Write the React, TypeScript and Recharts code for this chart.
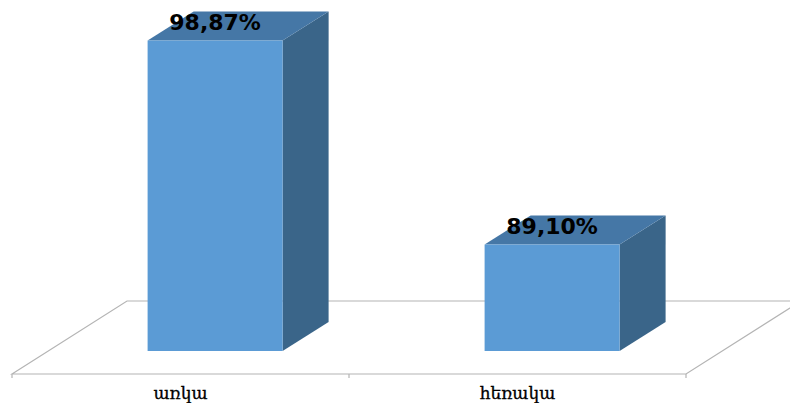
import { Bar, BarChart, LabelList, XAxis, YAxis, usePlotArea } from "recharts";

const categories = ["առկա", "հեռակա"];
const values = [98.87, 89.1];
const chartData = categories.map((name, i) => ({ name, value: values[i] }));

// fake 3d projection, same slant for the floor and the bars
const floorDepth = { dx: 115, dy: 73 };
const barShift = { dx: 34.5, dy: 23 };
const barDepth = { dx: 46, dy: 29 };

const gridColor = "#b4b4b4";

function Floor() {
  const plot = usePlotArea();
  if (!plot) return null;
  const left = plot.x;
  const right = plot.x + plot.width;
  const front = plot.y + plot.height;
  const back = front - floorDepth.dy;
  const ticks = [left, (left + right) / 2, right];
  return (
    <g stroke={gridColor} strokeWidth={1.2} fill="none">
      <path
        d={`M${left},${front} L${left + floorDepth.dx},${back} L${right + floorDepth.dx},${back} L${right},${front} Z`}
      />
      {ticks.map((t) => (
        <line key={t} x1={t} x2={t} y1={front} y2={front + 4} />
      ))}
    </g>
  );
}

function Box3D(props: any) {
  const { x, y, width, height } = props;
  const x0 = x + barShift.dx;
  const x1 = x0 + width;
  const top = y;
  const bottom = y + height - barShift.dy;
  const { dx, dy } = barDepth;
  return (
    <g>
      <path d={`M${x1},${top} L${x1 + dx},${top - dy} L${x1 + dx},${bottom - dy} L${x1},${bottom} Z`} fill="#3a6589" />
      <path d={`M${x0},${top} L${x0 + dx},${top - dy} L${x1 + dx},${top - dy} L${x1},${top} Z`} fill="#4577a6" />
      <rect x={x0} y={top} width={width} height={bottom - top} fill="#5b9bd5" />
    </g>
  );
}

function ValueLabel(props: any) {
  const { x, y, width, value } = props;
  return (
    <text
      x={x + barShift.dx + width / 2}
      y={y - 11}
      textAnchor="middle"
      fontFamily="DejaVu Sans"
      fontWeight="bold"
      fontSize={22}
      fill="#000"
    >
      {value.toFixed(2).replace(".", ",") + "%"}
    </text>
  );
}

export default function App() {
  return (
    <div style={{ position: "absolute", left: 0, top: 0, width: 790, height: 403 }}>
      <BarChart
        width={790}
        height={403}
        data={chartData}
        margin={{ top: 0, right: 104, left: 12, bottom: 0 }}
        barCategoryGap="30%"
      >
        <XAxis
          dataKey="name"
          height={29}
          axisLine={false}
          tickLine={false}
          interval={0}
          tick={{ fontFamily: "DejaVu Serif", fontSize: 17, fill: "#000", stroke: "#000", strokeWidth: 0.3 }}
          tickMargin={7}
        />
        <YAxis hide domain={[82.9, 100.81]} />
        <Floor />
        <Bar dataKey="value" shape={Box3D} isAnimationActive={false}>
          <LabelList dataKey="value" content={ValueLabel} />
        </Bar>
      </BarChart>
    </div>
  );
}
